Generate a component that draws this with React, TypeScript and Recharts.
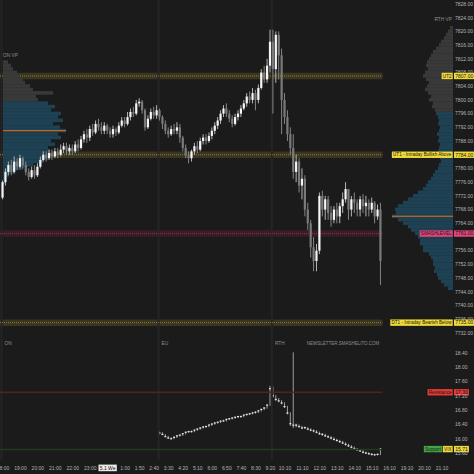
import React from 'react'
import { ComposedChart, BarChart, Bar, XAxis, YAxis, ReferenceLine, ReferenceArea } from 'recharts'

const W = 474
const TOP_H = 348
const BOT_H = 126
const AXIS_W = 21
const BG = '#1b1b1b'
const FONT = '"Liberation Sans", Arial, sans-serif'

const PRICE_MIN = 7727.6
const PRICE_MAX = 7829.17
const X_MIN = -1.03
const X_MAX = 154.8
const VIX_MIN = 15.404
const VIX_MAX = 18.54

// 10 minute bars, index 0 = 18:00
const opens = [
  7771.5, 7776, 7779, 7781, 7779, 7782, 7780.5, 7783, 7781, 7779,
  7777.5, 7779.5, 7778, 7780.5, 7782.5, 7784, 7783, 7784.5, 7783.5, 7785,
  7784, 7785.5, 7786.5, 7785, 7786, 7785, 7787, 7786, 7788.5, 7790,
  7789, 7791.5, 7790.5, 7793, 7792, 7791, 7792.5, 7791, 7790, 7791.5,
  7790.5, 7792.5, 7794, 7793, 7795, 7796.5, 7796, 7799, 7799.5, 7797,
  7792, 7794.5, 7796.5, 7795.5, 7797, 7795, 7793, 7791, 7790, 7791.5,
  7791, 7792, 7789, 7786, 7784, 7783, 7785, 7786.5, 7785.5, 7788,
  7789, 7788, 7789.5, 7791, 7792.5, 7794, 7796, 7797.5, 7796, 7794.5,
  7793, 7795, 7796, 7797.5, 7799, 7801, 7800, 7802, 7800, 7803.5,
  7808, 7806, 7810, 7817, 7809, 7819, 7813, 7800, 7795, 7790,
  7786, 7779, 7782, 7775, 7777, 7768, 7764, 7757, 7753, 7756,
  7772, 7768, 7771, 7767, 7765, 7768, 7766, 7769, 7771, 7774,
  7768, 7771, 7770, 7768, 7771, 7769, 7770, 7768, 7770, 7766,
  7768,
]
const highs = [
  7776.5, 7780, 7782, 7782.5, 7783.5, 7783, 7784, 7783.5, 7782, 7780,
  7780.5, 7781, 7781.5, 7783.5, 7785, 7785, 7785.5, 7785.5, 7786, 7786,
  7787, 7787.5, 7787.5, 7787, 7787, 7788, 7788.5, 7789.5, 7791, 7791.5,
  7792.5, 7793, 7794, 7794.5, 7793.5, 7793.5, 7793, 7792, 7792.5, 7792,
  7793.5, 7795, 7795, 7796.5, 7797.5, 7798, 7800, 7800.5, 7800, 7797.5,
  7795.5, 7797.5, 7798, 7798.5, 7797.5, 7795.5, 7794, 7792, 7792.5, 7793,
  7793.5, 7793, 7789.5, 7787, 7785, 7785.5, 7787.5, 7788, 7789, 7790,
  7790, 7790.5, 7792, 7793.5, 7795, 7797, 7798.5, 7799, 7797, 7795.5,
  7796, 7797, 7798.5, 7800, 7802, 7802.5, 7803.5, 7803, 7804.5, 7809,
  7810, 7812, 7820.5, 7820.5, 7820, 7820, 7815, 7802, 7797, 7792,
  7790, 7784, 7783, 7780, 7778, 7770, 7765, 7760, 7758, 7773,
  7773.5, 7772, 7772, 7769, 7769, 7770, 7770, 7773, 7776, 7774,
  7772, 7773, 7771, 7772, 7772.5, 7772, 7771, 7771.5, 7770.5, 7769.5,
  7770,
]
const lows = [
  7771, 7775, 7778, 7778, 7778.5, 7779.5, 7780, 7780, 7778, 7776.5,
  7777, 7777, 7777.5, 7780, 7782, 7782, 7782.5, 7782.5, 7783, 7783,
  7783.5, 7784.5, 7784, 7784, 7784, 7784.5, 7785, 7785.5, 7787.5, 7787.5,
  7788, 7789.5, 7790, 7791, 7790, 7790, 7790, 7789, 7789, 7789.5,
  7790, 7792, 7792, 7792.5, 7794, 7795, 7795.5, 7798, 7796, 7791,
  7791.5, 7794, 7794.5, 7794.5, 7794, 7791.5, 7790, 7789, 7789.5, 7790,
  7790, 7787.5, 7785, 7783, 7781.5, 7782, 7784, 7784.5, 7785, 7787,
  7787, 7787.5, 7788.5, 7790, 7791.5, 7793, 7795, 7795, 7793.5, 7792,
  7792.5, 7794, 7795, 7797, 7798, 7799, 7799, 7797, 7799, 7803,
  7805, 7805, 7808, 7796, 7805, 7806, 7790, 7793, 7788, 7784,
  7777, 7776, 7773, 7771, 7766, 7762, 7754, 7750, 7750, 7755,
  7766, 7765, 7765, 7763, 7764, 7764, 7764, 7767, 7770, 7765,
  7766, 7767, 7766, 7766, 7767, 7766, 7766, 7767, 7764, 7765,
  7746,
]
const closes = [
  7776, 7779, 7781, 7779, 7782, 7780.5, 7783, 7781, 7779, 7777.5,
  7779.5, 7778, 7780.5, 7782.5, 7784, 7783, 7784.5, 7783.5, 7785, 7784,
  7785.5, 7786.5, 7785, 7786, 7785, 7787, 7786, 7788.5, 7790, 7789,
  7791.5, 7790.5, 7793, 7792, 7791, 7792.5, 7791, 7790, 7791.5, 7790.5,
  7792.5, 7794, 7793, 7795, 7796.5, 7796, 7799, 7799.5, 7797, 7792,
  7794.5, 7796.5, 7795.5, 7797, 7795, 7793, 7791, 7790, 7791.5, 7791,
  7792, 7789, 7786, 7784, 7783, 7785, 7786.5, 7785.5, 7788, 7789,
  7788, 7789.5, 7791, 7792.5, 7794, 7796, 7797.5, 7796, 7794.5, 7793,
  7795, 7796, 7797.5, 7799, 7801, 7800, 7802, 7800, 7803.5, 7808,
  7806, 7810, 7817, 7809, 7819, 7813, 7800, 7795, 7790, 7786,
  7779, 7782, 7775, 7777, 7768, 7764, 7757, 7753, 7756, 7772,
  7768, 7771, 7767, 7765, 7768, 7766, 7769, 7771, 7774, 7768,
  7771, 7770, 7768, 7771, 7769, 7770, 7768, 7770, 7766, 7768,
  7753,
]

// VIX, from the 3:00 bar (index 54)
const vixStart = 54
const vixClose = [
  16.16, 16.12, 16.06, 16.02, 16.0, 16.04, 16.08, 16.1, 16.14, 16.18,
  16.2, 16.2, 16.24, 16.27, 16.3, 16.33, 16.34, 16.38, 16.41, 16.44,
  16.46, 16.49, 16.5, 16.54, 16.56, 16.58, 16.6, 16.62, 16.62, 16.66,
  16.68, 16.7, 16.72, 16.74, 16.78, 16.82, 16.86, 16.94, 17.4, 17.2,
  17.1, 17.06, 17.0, 16.9, 16.72, 16.42, 16.38, 16.38, 16.34, 16.3,
  16.31, 16.27, 16.24, 16.22, 16.18, 16.14, 16.12, 16.08, 16.05, 16.02,
  15.98, 15.95, 15.92, 15.88, 15.84, 15.8, 15.76, 15.72, 15.69, 15.66,
  15.62, 15.6, 15.58, 15.56, 15.55, 15.56, 15.71,
]
const vixHigh = [
  16.2, 16.18, 16.13, 16.08, 16.04, 16.06, 16.1, 16.12, 16.16, 16.2,
  16.22, 16.23, 16.26, 16.29, 16.32, 16.35, 16.37, 16.4, 16.43, 16.46,
  16.48, 16.51, 16.53, 16.56, 16.58, 16.6, 16.62, 16.64, 16.65, 16.68,
  16.7, 16.72, 16.75, 16.77, 16.8, 16.84, 16.88, 16.96, 17.48, 17.46,
  17.22, 17.14, 17.08, 17.02, 16.92, 16.74, 18.42, 16.42, 16.4, 16.36,
  16.34, 16.32, 16.29, 16.26, 16.24, 16.2, 16.16, 16.14, 16.1, 16.07,
  16.04, 16.0, 15.97, 15.94, 15.9, 15.86, 15.82, 15.78, 15.74, 15.71,
  15.68, 15.64, 15.62, 15.6, 15.58, 15.59, 15.74,
]
const vixLow = [
  16.12, 16.1, 16.04, 16.0, 15.98, 15.99, 16.02, 16.06, 16.08, 16.12,
  16.16, 16.17, 16.18, 16.22, 16.25, 16.28, 16.31, 16.32, 16.36, 16.39,
  16.42, 16.44, 16.47, 16.48, 16.52, 16.54, 16.56, 16.58, 16.59, 16.6,
  16.64, 16.66, 16.68, 16.7, 16.72, 16.76, 16.8, 16.84, 16.92, 17.15,
  17.05, 17.02, 16.96, 16.86, 16.68, 16.36, 16.3, 16.32, 16.31, 16.27,
  16.27, 16.24, 16.21, 16.18, 16.15, 16.11, 16.08, 16.05, 16.02, 15.98,
  15.95, 15.92, 15.88, 15.85, 15.81, 15.77, 15.73, 15.69, 15.66, 15.63,
  15.59, 15.57, 15.55, 15.53, 15.52, 15.53, 15.54,
]

// volume profiles, one row per point, listed from the top price down
const onVpTop = 7811
const onVpVol = [
  5, 8, 10, 14, 17, 20, 22, 27, 30, 50, 33, 35,
  45, 52, 48, 58, 55, 60, 50, 57, 63, 55, 58, 48,
  52, 45, 47, 43, 45, 40, 30, 20, 12, 6, 3, 2,
]
const onVaHigh = 7799
const onPoc = 7791

const rthVpTop = 7821
const rthVpVol = [
  3, 5, 7, 9, 12, 14, 17, 20, 22, 24, 26, 27, 25, 28, 30, 27, 24, 26, 28, 25,
  22, 24, 20, 21, 18, 17, 15, 14, 15, 13, 14, 16, 14, 15, 13, 14, 15, 14, 13, 12,
  14, 15, 18, 20, 22, 25, 27, 30, 35, 40, 45, 50, 55, 58, 57, 61, 55, 50, 45, 42,
  38, 35, 33, 33, 30, 30, 24, 22, 20, 20, 18, 19, 16, 15, 12, 9, 5,
]
const rthVaHigh = 7796
const rthPoc = 7766

const priceTicks = [
  7732, 7736, 7740, 7744, 7748, 7752, 7756, 7764, 7768, 7772, 7776, 7780,
  7788, 7792, 7796, 7800, 7804, 7808, 7812, 7816, 7820, 7824, 7828,
]
const vixTicks = [15.6, 16.0, 16.4, 16.8, 17.2, 17.6, 18.0, 18.4]

const timeTicks = [0, 6, 12, 18, 24, 30, 36, 42, 47, 52, 57, 62, 67, 72, 77, 82, 87, 92, 97, 103, 109, 115, 121, 127, 133, 139, 145, 151]
const timeLabels = ['18:00', '19:00', '20:00', '21:00', '22:00', '23:00', '5.1 We', '1:00', '1:50', '2:40', '3:30', '4:20', '5:10', '6:00', '6:50', '7:40', '8:30', '9:20', '10:10', '11:10', '12:10', '13:10', '14:10', '15:10', '16:10', '19:10', '20:10', '21:10']
const dateLabel = '5.1 We'

const sessionStarts = [-0.5, 53.5, 92.5]
const sessionNames = ['ON', 'EU', 'RTH']
const lastBar = 130.5

const bandLevels = [7807, 7784, 7761, 7735]
const bandNames = ['UT2', 'UT1 - Intraday Bullish Above', 'SMASHLEVEL', 'DT1 - Intraday Bearish Below']
const bandSmash = [false, false, true, false]

const resistance = 17.3
const support = 15.7
const vixLast = 15.71

const YELLOW = '#f0da3a'
const PINK = '#e0467a'
const RED = '#e53a35'
const GREEN = '#44a546'

const candles = opens.map((o, i) => ({ i, o, h: highs[i], l: lows[i], c: closes[i] }))
const vixRows = vixClose.map((c, k) => ({ i: vixStart + k, c, h: vixHigh[k], l: vixLow[k] }))
const onVpRows = onVpVol.map((vol, k) => {
  const price = onVpTop - k
  return { price, vol, va: price <= onVaHigh, poc: price === onPoc }
})
const rthVpRows = rthVpVol.map((vol, k) => {
  const price = rthVpTop - k
  return { price, vol, va: price <= rthVaHigh, poc: price === rthPoc }
})

let measureCtx: CanvasRenderingContext2D | null = null
function textWidth(s: string, fs: number) {
  if (!measureCtx) measureCtx = document.createElement('canvas').getContext('2d')
  if (!measureCtx) return s.length * fs * 0.5
  measureCtx.font = `${fs}px "Liberation Sans"`
  return measureCtx.measureText(s).width
}

type Tag = { text: string; bg: string }

function tagRow(vb: any, value: Tag, names: Tag[]) {
  if (!vb) return null
  const right = vb.x + vb.width
  const cy = vb.y
  const h = 6.4
  const vw = textWidth(value.text, 5) + 2.4
  const items: any[] = []
  items.push(
    <g key="v">
      <rect x={right + 1} y={cy - h / 2} width={vw} height={h} fill={value.bg} />
      <text x={right + 2.2} y={cy + 1.8} fontSize={5} fill="#161616" fontFamily={FONT}>{value.text}</text>
    </g>
  )
  let cursor = right - 0.3
  names.slice().reverse().forEach((t, k) => {
    const w = textWidth(t.text, 4.6) + 2.4
    cursor -= w
    items.push(
      <g key={k}>
        <rect x={cursor} y={cy - h / 2} width={w} height={h} fill={t.bg} />
        <text x={cursor + 1.2} y={cy + 1.7} fontSize={4.6} fill="#161616" fontFamily={FONT}>{t.text}</text>
      </g>
    )
    cursor -= 0.6
  })
  return <g>{items}</g>
}

function Candle(props: any) {
  const { x, y, width, height, payload } = props
  if (!payload || payload.h == null) return null
  const top = Math.min(y, y + height)
  const h = Math.abs(height)
  const span = payload.h - payload.l
  const k = span > 0 ? h / span : 0
  const yo = top + (payload.h - payload.o) * k
  const yc = top + (payload.h - payload.c) * k
  const cx = x + width / 2
  const up = payload.c >= payload.o
  const bt = Math.min(yo, yc)
  const bh = Math.max(1, Math.abs(yo - yc))
  return (
    <g>
      <line x1={cx} x2={cx} y1={top} y2={top + h} stroke={up ? '#b4b4b4' : '#858585'} strokeWidth={1} />
      <rect x={cx - 1.1} y={bt} width={2.2} height={bh} fill={up ? '#f5f5f5' : '#7a7a7a'} />
    </g>
  )
}

function VixBar(props: any) {
  const { x, y, width, height, payload } = props
  if (!payload) return null
  const top = Math.min(y, y + height)
  const h = Math.abs(height)
  const span = payload.h - payload.l
  const k = span > 0 ? h / span : 0
  const yc = top + (payload.h - payload.c) * k
  const cx = x + width / 2
  return (
    <g>
      <line x1={cx} x2={cx} y1={top} y2={top + h} stroke="#9c9c9c" strokeWidth={1} />
      <rect x={cx - 1} y={yc - 0.6} width={2} height={1.2} fill="#e4e4e4" />
    </g>
  )
}

// rows are one point apart; the library's band is narrower than that, so the row is
// drawn a little taller around its own centre to close the gaps
const VP_ROW = 3.6

function VpBar(props: any) {
  const { x, y, width, height, payload } = props
  if (!payload) return null
  const x0 = Math.min(x, x + width)
  const w = Math.abs(width)
  const cy = Math.min(y, y + height) + Math.abs(height) / 2
  return (
    <g>
      <rect x={x0} y={cy - VP_ROW / 2} width={w} height={VP_ROW} fill={payload.va ? '#1e4254' : '#393939'} />
      {payload.poc && <rect x={x0} y={cy - 0.6} width={w} height={1.2} fill="#c8681e" />}
    </g>
  )
}

function PriceTick({ x, y, payload }: any) {
  return (
    <text x={x} y={y + 1.8} fontSize={5} fill="#b4b4b4" fontFamily={FONT}>
      {Number(payload.value).toFixed(2)}
    </text>
  )
}

function TimeTick({ x, y, payload }: any) {
  const label = timeLabels[timeTicks.indexOf(payload.value)] ?? ''
  if (label === dateLabel) {
    const w = textWidth(label, 5) + 2.6
    return (
      <g>
        <rect x={x - w / 2} y={y + 4.6} width={w} height={6.6} fill="#ececec" />
        <text x={x} y={y + 9.6} textAnchor="middle" fontSize={5} fill="#111" fontFamily={FONT}>{label}</text>
      </g>
    )
  }
  return (
    <text x={x} y={y + 9.6} textAnchor="middle" fontSize={5} fill="#b4b4b4" fontFamily={FONT}>{label}</text>
  )
}

const layer: React.CSSProperties = { position: 'absolute', left: 0, top: 0 }

export default function App() {
  return (
    <div style={{ position: 'fixed', left: 0, top: 0, width: W, height: W, background: BG, overflow: 'hidden' }}>
      {/* bands, sessions, price axis */}
      <div style={layer}>
        <ComposedChart width={W} height={TOP_H} data={candles} margin={{ top: 0, right: 0, bottom: 0, left: 0 }}>
          <XAxis type="number" dataKey="i" domain={[X_MIN, X_MAX]} allowDataOverflow hide />
          <YAxis
            orientation="right"
            width={AXIS_W}
            type="number"
            domain={[PRICE_MIN, PRICE_MAX]}
            allowDataOverflow
            ticks={priceTicks}
            interval={0}
            axisLine={false}
            tickLine={false}
            tickSize={0}
            tickMargin={2}
            tick={<PriceTick />}
          />
          {sessionStarts.map((s, k) => (
            <ReferenceLine
              key={'s' + k}
              x={s}
              stroke="#252525"
              strokeWidth={2}
              label={(p: any) => (
                <text x={p.viewBox.x + 3} y={p.viewBox.y + p.viewBox.height - 3} fontSize={4.8} fill="#8e8e8e" fontFamily={FONT}>
                  {sessionNames[k]}
                </text>
              )}
            />
          ))}
          <ReferenceLine
            x={lastBar}
            stroke="none"
            label={(p: any) => (
              <text x={p.viewBox.x - 3} y={p.viewBox.y + p.viewBox.height - 3} textAnchor="end" fontSize={4.5} fill="#8e8e8e" fontFamily={FONT}>
                NEWSLETTER.SMASHELITO.COM
              </text>
            )}
          />
          {bandLevels.map((lv, k) => (
            <ReferenceArea
              key={'a' + k}
              x1={X_MIN}
              x2={lastBar}
              y1={lv - 0.95}
              y2={lv + 0.95}
              fill={bandSmash[k] ? '#3a1d28' : '#39351f'}
              fillOpacity={1}
              stroke="none"
            />
          ))}
          {bandLevels.map((lv, k) => (
            <ReferenceLine
              key={'d' + k}
              segment={[{ x: X_MIN, y: lv }, { x: lastBar, y: lv }]}
              stroke={bandSmash[k] ? '#7e3550' : '#8a7e42'}
              strokeWidth={1}
              strokeDasharray="1 1"
            />
          ))}
        </ComposedChart>
      </div>

      {/* overnight volume profile */}
      <div style={layer}>
        <BarChart layout="vertical" width={W} height={TOP_H} data={onVpRows} margin={{ top: 0, right: AXIS_W, bottom: 0, left: 3 }}>
          <XAxis type="number" domain={[0, 450]} allowDataOverflow hide />
          <YAxis type="number" dataKey="price" domain={[PRICE_MIN, PRICE_MAX]} allowDataOverflow reversed hide />
          <Bar dataKey="vol" barSize={3.5} shape={<VpBar />} isAnimationActive={false} />
        </BarChart>
      </div>

      {/* RTH volume profile */}
      <div style={layer}>
        <BarChart layout="vertical" width={W} height={TOP_H} data={rthVpRows} margin={{ top: 0, right: AXIS_W, bottom: 0, left: 0 }}>
          <XAxis type="number" domain={[0, 453]} allowDataOverflow reversed hide />
          <YAxis type="number" dataKey="price" domain={[PRICE_MIN, PRICE_MAX]} allowDataOverflow reversed hide />
          <Bar dataKey="vol" barSize={3.5} shape={<VpBar />} isAnimationActive={false} />
        </BarChart>
      </div>

      {/* candles and level tags */}
      <div style={layer}>
        <ComposedChart width={W} height={TOP_H} data={candles} margin={{ top: 0, right: AXIS_W, bottom: 0, left: 0 }}>
          <XAxis type="number" dataKey="i" domain={[X_MIN, X_MAX]} allowDataOverflow hide />
          <YAxis type="number" domain={[PRICE_MIN, PRICE_MAX]} allowDataOverflow hide />
          <Bar dataKey={(d: any) => [d.l, d.h]} barSize={2} shape={<Candle />} isAnimationActive={false} />
          <ReferenceLine
            y={7813}
            stroke="none"
            label={(p: any) => (
              <text x={p.viewBox.x + 3} y={p.viewBox.y + 1.7} fontSize={4.8} fill="#8e8e8e" fontFamily={FONT}>ON VP</text>
            )}
          />
          <ReferenceLine
            y={7823.5}
            stroke="none"
            label={(p: any) => (
              <text x={p.viewBox.x + p.viewBox.width - 1} y={p.viewBox.y + 1.7} textAnchor="end" fontSize={4.8} fill="#8e8e8e" fontFamily={FONT}>RTH VP</text>
            )}
          />
          {bandLevels.map((lv, k) => (
            <ReferenceLine
              key={'t' + k}
              y={lv}
              stroke="none"
              label={(p: any) =>
                tagRow(p.viewBox, { text: lv.toFixed(2), bg: bandSmash[k] ? PINK : YELLOW }, [
                  { text: bandNames[k], bg: bandSmash[k] ? PINK : YELLOW },
                ])
              }
            />
          ))}
        </ComposedChart>
      </div>

      {/* VIX pane */}
      <div style={{ ...layer, top: TOP_H }}>
        <ComposedChart width={W} height={BOT_H} data={vixRows} margin={{ top: 0, right: 0, bottom: 0, left: 0 }}>
          <XAxis
            type="number"
            dataKey="i"
            domain={[X_MIN, X_MAX]}
            allowDataOverflow
            ticks={timeTicks}
            interval={0}
            height={14}
            axisLine={false}
            tickLine={false}
            tickSize={0}
            tickMargin={0}
            tick={<TimeTick />}
          />
          <YAxis
            orientation="right"
            width={AXIS_W}
            type="number"
            domain={[VIX_MIN, VIX_MAX]}
            allowDataOverflow
            ticks={vixTicks}
            interval={0}
            axisLine={false}
            tickLine={false}
            tickSize={0}
            tickMargin={2}
            tick={<PriceTick />}
          />
          {sessionStarts.map((s, k) => (
            <ReferenceLine key={'vs' + k} x={s} stroke="#252525" strokeWidth={2} />
          ))}
          <ReferenceLine segment={[{ x: X_MIN, y: resistance }, { x: lastBar, y: resistance }]} stroke="#5a1f1f" strokeWidth={1.5} />
          <ReferenceLine segment={[{ x: X_MIN, y: support }, { x: lastBar, y: support }]} stroke="#1f3d1e" strokeWidth={1.5} />
          <Bar dataKey={(d: any) => [d.l, d.h]} barSize={2} shape={<VixBar />} isAnimationActive={false} />
          <ReferenceLine
            y={resistance}
            stroke="none"
            label={(p: any) => tagRow(p.viewBox, { text: resistance.toFixed(2), bg: RED }, [{ text: 'Resistance', bg: RED }])}
          />
          <ReferenceLine
            y={vixLast}
            stroke="none"
            label={(p: any) =>
              tagRow(p.viewBox, { text: vixLast.toFixed(2), bg: YELLOW }, [
                { text: 'Support', bg: GREEN },
                { text: 'VIX', bg: YELLOW },
              ])
            }
          />
        </ComposedChart>
      </div>
    </div>
  )
}
